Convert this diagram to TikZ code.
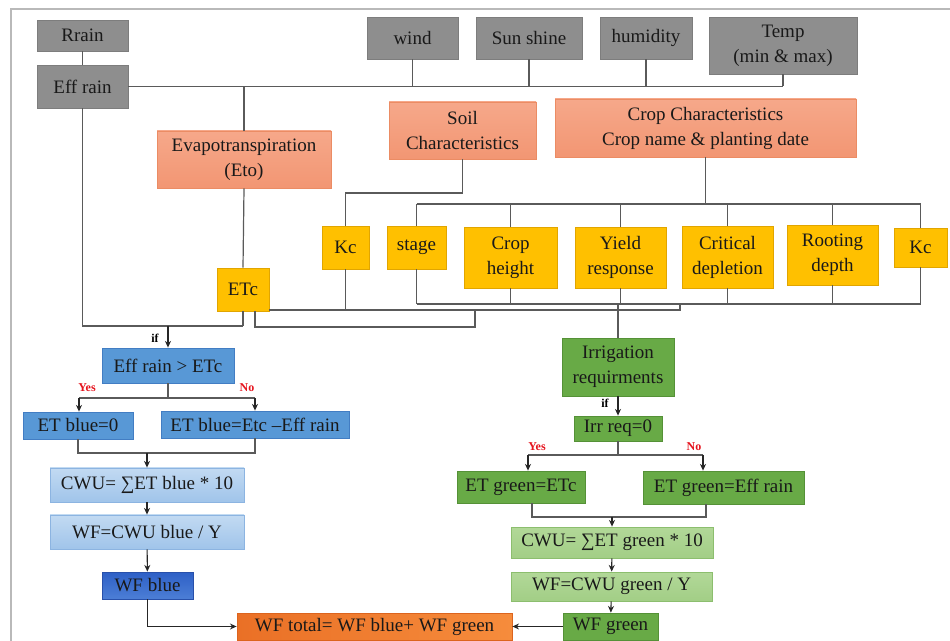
\documentclass[tikz,border=0pt]{standalone}
\usepackage{fontspec}
\setmainfont{Liberation Serif}
\newfontfamily\tnr{Liberation Serif}
\usetikzlibrary{arrows.meta}
\definecolor{txt}{RGB}{25,25,25}
\definecolor{gbox}{RGB}{142,142,142}
\definecolor{gboxd}{RGB}{125,125,125}
\definecolor{salT}{RGB}{246,168,138}
\definecolor{salB}{RGB}{242,150,115}
\definecolor{sald}{RGB}{235,140,100}
\definecolor{yel}{RGB}{255,192,0}
\definecolor{yeld}{RGB}{225,165,0}
\definecolor{blu}{RGB}{88,152,214}
\definecolor{blud}{RGB}{66,125,195}
\definecolor{lbT}{RGB}{194,218,242}
\definecolor{lbB}{RGB}{160,196,234}
\definecolor{lbd}{RGB}{140,180,225}
\definecolor{dbT}{RGB}{46,96,198}
\definecolor{dbB}{RGB}{76,126,214}
\definecolor{dbd}{RGB}{40,80,170}
\definecolor{grn}{RGB}{104,170,70}
\definecolor{grnd}{RGB}{85,145,55}
\definecolor{lgT}{RGB}{178,216,152}
\definecolor{lgB}{RGB}{162,206,134}
\definecolor{lgd}{RGB}{140,190,110}
\definecolor{orT}{RGB}{234,112,38}
\definecolor{orB}{RGB}{246,140,60}
\definecolor{ord}{RGB}{220,100,30}
\definecolor{lnc}{RGB}{90,90,90}
\definecolor{framec}{RGB}{185,185,185}
\definecolor{lblred}{RGB}{230,20,30}
\newcommand\bx[7]{\node[box,#6, minimum width={(#4-#2)*0.75pt}, minimum height={(#5-#3)*0.75pt}] (#1) at ({(#2+#4)/2},{(#3+#5)/2}) {#7};}
\tikzset{
  box/.style={inner sep=0pt, align=center, font=\tnr\fontsize{14.25}{18.75}\selectfont, text=txt, line width=0.6pt},
  graybox/.style={fill=gbox, draw=gboxd},
  salbox/.style={top color=salT, bottom color=salB, draw=sald},
  yelbox/.style={fill=yel, draw=yeld},
  blubox/.style={fill=blu, draw=blud},
  lbbox/.style={top color=lbT, bottom color=lbB, draw=lbd},
  dbbox/.style={top color=dbT, bottom color=dbB, draw=dbd},
  grnbox/.style={fill=grn, draw=grnd},
  lgbox/.style={top color=lgT, bottom color=lgB, draw=lgd},
  orbox/.style={left color=orT, right color=orB, draw=ord},
  ln/.style={draw=lnc, line width=0.9pt},
  arr/.style={draw=black!85, line width=0.8pt, -{Stealth[length=5pt,width=4.5pt]}},
  iflbl/.style={font=\tnr\fontsize{9}{10}\selectfont\bfseries, text=black},
  yn/.style={font=\tnr\fontsize{9}{10}\selectfont\bfseries, text=lblred}
}
\begin{document}
\begin{tikzpicture}[x=0.75pt,y=-0.75pt]
\useasboundingbox (0,0) rectangle (950,641);
\fill[white] (0,0) rectangle (950,641);
\draw[framec, line width=1.2pt] (11,641) -- (11,9) -- (950,9);
% top gray boxes
\bx{rrain}{37}{20}{128}{51}{graybox}{Rrain}
\bx{effrain}{37}{65}{128}{108}{graybox}{Eff rain}
\bx{wind}{367}{17}{458}{59}{graybox}{wind}
\bx{sun}{476}{17}{582}{59}{graybox}{Sun shine}
\bx{hum}{600}{17}{692}{59}{graybox}{humidity}
\bx{temp}{709}{17}{857}{74}{graybox}{Temp\\(min \& max)}
% salmon boxes
\bx{evapo}{157}{131}{331}{188}{salbox}{Evapotranspiration\\(Eto)}
\bx{soil}{389}{102}{536}{159}{salbox}{Soil\\Characteristics}
\bx{crop}{555}{99}{856}{157}{salbox}{Crop Characteristics\\Crop name \& planting date}
% yellow boxes
\bx{kc1}{322}{226}{369}{269}{yelbox}{Kc}
\bx{stage}{387}{226}{446}{269}{yelbox}{stage}
\bx{height}{464}{227}{557}{288}{yelbox}{Crop\\height}
\bx{yield}{575}{227}{666}{288}{yelbox}{Yield\\response}
\bx{crit}{682}{226}{773}{288}{yelbox}{Critical\\depletion}
\bx{root}{787}{225}{878}{285}{yelbox}{Rooting\\depth}
\bx{kc2}{894}{228}{947}{267}{yelbox}{Kc}
\bx{etc}{217}{268}{269}{311}{yelbox}{ETc}
% blue branch
\bx{cond}{102}{348}{234}{383}{blubox}{Eff rain > ETc}
\bx{etb0}{23}{412}{133}{439}{blubox}{ET blue=0}
\bx{etb1}{161}{411}{349}{438}{blubox}{ET blue=Etc –Eff rain}
\bx{cwub}{50}{468}{244}{502}{lbbox}{CWU= ∑ET blue * 10}
\bx{wfcb}{50}{515}{244}{549}{lbbox}{WF=CWU blue / Y}
\bx{wfb}{102}{572}{193}{599}{dbbox}{WF blue}
\bx{wft}{237}{613}{512}{640}{orbox}{WF total= WF blue+ WF green}
% green branch
\bx{irr}{562}{338}{674}{396}{grnbox}{Irrigation\\requirments}
\bx{irrq}{574}{416}{662}{441}{grnbox}{Irr req=0}
\bx{etg0}{457}{471}{585}{503}{grnbox}{ET green=ETc}
\bx{etg1}{643}{471}{804}{504}{grnbox}{ET green=Eff rain}
\bx{cwug}{511}{527}{713}{558}{lgbox}{CWU= ∑ET green * 10}
\bx{wfcg}{511}{572}{712}{601}{lgbox}{WF=CWU green / Y}
\bx{wfg}{563}{613}{658}{640}{grnbox}{WF green}
% helper coordinates
\coordinate (y193) at (0,193);
\coordinate (y204) at (0,204);
\coordinate (y304) at (0,304);
\coordinate (y310) at (0,310);
\coordinate (y326) at (0,326);
\coordinate (j680) at (680,304);
\coordinate (e1) at (255,327);
\coordinate (e2) at (475,310);
% weather bus
\draw[ln] (rrain) -- (effrain);
\draw[ln] (effrain.east) -- (temp.south |- effrain.east);
\foreach \n in {wind,sun,hum,temp}{\draw[ln] (\n.south) -- (\n.south |- effrain.east);}
\draw[ln] (evapo.north) -- (evapo.north |- effrain.east);
\draw[ln] (evapo.south) -- (etc.north);
% soil
\draw[ln] (soil.south) |- (kc1.north |- y193) -- (kc1.north);
% crop buses
\draw[ln] (crop.south) -- (crop.south |- y204);
\draw[ln] (stage.north |- y204) -- (kc2.north |- y204);
\draw[ln] (stage.south |- y304) -- (kc2.south |- y304);
\foreach \n in {stage,height,yield,crit,root,kc2}{
  \draw[ln] (\n.north) -- (\n.north |- y204);
  \draw[ln] (\n.south) -- (\n.south |- y304);
}
\draw[ln] (etc.east |- y310) -- (j680 |- y310) -- (j680);
\draw[ln] (kc1.south) -- (kc1.south |- y310);
\draw[ln] (irr.north |- y304) -- (irr.north);
\draw[ln] (etc.south -| e1) |- (e2 |- e1) -- (e2);
% blue flow
\draw[ln] (effrain.south) |- (etc.south |- y326);
\draw[ln] (etc.south) -- (etc.south |- y326);
\draw[arr] (cond.north |- y326) -- (cond.north);
\node[iflbl] (if1) at (155,338) {if};
\coordinate (yb) at (79,398);
\coordinate (nb) at (255,398);
\draw[ln] (cond.south) -- (cond.south |- yb);
\draw[ln] (yb) -- (nb);
\draw[arr] (yb) -- (yb |- etb0.north);
\draw[arr] (nb) -- (nb |- etb1.north);
\node[yn] (yes1) at (87,388) {Yes};
\node[yn] (no1) at (247,388) {No};
\coordinate (mb) at (0,453);
\draw[ln] (etb0.south) |- (etb1.south |- mb) -- (etb1.south);
\draw[arr] (cwub.north |- mb) -- (cwub.north);
\draw[arr] (cwub) -- (wfcb);
\draw[arr] (wfcb) -- (wfb);
\draw[arr] (wfb.south) |- (wft.west);
% green flow
\draw[arr] (irr.south) -- (irrq.north);
\node[iflbl] (if2) at (605,403) {if};
\coordinate (yg) at (528,455);
\coordinate (ng) at (703,455);
\draw[ln] (irrq.south) -- (irrq.south |- yg);
\draw[ln] (yg) -- (ng);
\draw[arr] (yg) -- (yg |- etg0.north);
\draw[arr] (ng) -- (ng |- etg1.north);
\node[yn] (yes2) at (537,447) {Yes};
\node[yn] (no2) at (694,447) {No};
\coordinate (mg1) at (532,517);
\coordinate (mg2) at (706,517);
\draw[ln] (mg1 |- etg0.south) -- (mg1) -- (mg2) -- (mg2 |- etg1.south);
\draw[arr] (cwug.north |- mg1) -- (cwug.north);
\draw[arr] (cwug) -- (wfcg);
\draw[arr] (wfcg) -- (wfg);
\draw[arr] (wfg) -- (wft);
\end{tikzpicture}
\end{document}
